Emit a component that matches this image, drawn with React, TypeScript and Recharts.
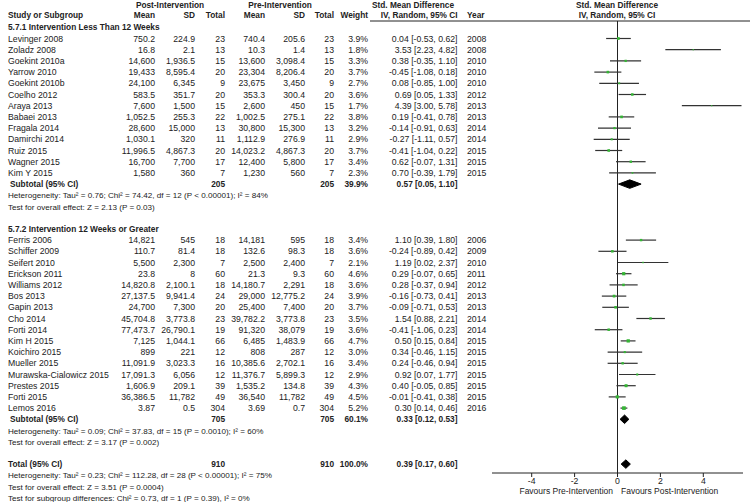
import { Area, ComposedChart, ErrorBar, ReferenceLine, Scatter, XAxis, YAxis } from "recharts";

document.body.style.margin = "0";

const font = '"Liberation Sans", Arial, Helvetica, sans-serif';
const ink = "#222";
const green = "#35b535";

// study table (first 13 = 5.7.1, rest = 5.7.2)
const studies = [
  "Levinger 2008", "Zoladz 2008", "Goekint 2010a", "Yarrow 2010", "Goekint 2010b", "Coelho 2012", "Araya 2013",
  "Babaei 2013", "Fragala 2014", "Damirchi 2014", "Ruiz 2015", "Wagner 2015", "Kim Y 2015",
  "Ferris 2006", "Schiffer 2009", "Seifert 2010", "Erickson 2011", "Williams 2012", "Bos 2013", "Gapin 2013",
  "Cho 2014", "Forti 2014", "Kim H 2015", "Koichiro 2015", "Mueller 2015", "Murawska-Cialowicz 2015",
  "Prestes 2015", "Forti 2015", "Lemos 2016",
];
const postMean = [
  "750.2", "16.8", "14,600", "19,433", "24,100", "583.5", "7,600", "1,052.5", "28,600", "1,030.1", "11,996.5", "16,700", "1,580",
  "14,821", "110.7", "5,500", "23.8", "14,820.8", "27,137.5", "24,700", "45,704.8", "77,473.7", "7,125", "899", "11,091.9",
  "17,091.3", "1,606.9", "36,386.5", "3.87",
];
const postSD = [
  "224.9", "2.1", "1,936.5", "8,595.4", "6,345", "351.7", "1,500", "255.3", "15,000", "320", "4,867.3", "7,700", "360",
  "545", "81.4", "2,300", "8", "2,100.1", "9,941.4", "7,300", "3,773.8", "26,790.1", "1,044.1", "221", "3,023.3",
  "6,056", "209.1", "11,782", "0.5",
];
const postN = [23, 13, 15, 20, 9, 20, 15, 22, 13, 11, 20, 17, 7, 18, 18, 7, 60, 18, 24, 20, 23, 19, 66, 12, 16, 12, 39, 49, 304];
const preMean = [
  "740.4", "10.3", "13,600", "23,304", "23,675", "353.3", "2,600", "1,002.5", "30,800", "1,112.9", "14,023.2", "12,400", "1,230",
  "14,181", "132.6", "2,500", "21.3", "14,180.7", "29,000", "25,400", "39,782.2", "91,320", "6,485", "808", "10,385.6",
  "11,376.7", "1,535.2", "36,540", "3.69",
];
const preSD = [
  "205.6", "1.4", "3,098.4", "8,206.4", "3,450", "300.4", "450", "275.1", "15,300", "276.9", "4,867.3", "5,800", "560",
  "595", "98.3", "2,400", "9.3", "2,291", "12,775.2", "7,400", "3,773.8", "38,079", "1,483.9", "287", "2,702.1",
  "5,899.3", "134.8", "11,782", "0.7",
];
const preN = postN;
const weight = [3.9, 1.8, 3.3, 3.7, 2.7, 3.6, 1.7, 3.8, 3.2, 2.9, 3.7, 3.4, 2.3, 3.4, 3.6, 2.1, 4.6, 3.6, 3.9, 3.7, 3.5, 3.6, 4.7, 3.0, 3.4, 2.9, 4.3, 4.5, 5.2];
const smd = [0.04, 3.53, 0.38, -0.45, 0.08, 0.69, 4.39, 0.19, -0.14, -0.27, -0.41, 0.62, 0.7, 1.1, -0.24, 1.19, 0.29, 0.28, -0.16, -0.09, 1.54, -0.41, 0.5, 0.34, 0.24, 0.92, 0.4, -0.01, 0.3];
const ciLow = [-0.53, 2.23, -0.35, -1.08, -0.85, 0.05, 3.0, -0.41, -0.91, -1.11, -1.04, -0.07, -0.39, 0.39, -0.89, 0.02, -0.07, -0.37, -0.73, -0.71, 0.88, -1.06, 0.15, -0.46, -0.46, 0.07, -0.05, -0.41, 0.14];
const ciHigh = [0.62, 4.82, 1.1, 0.18, 1.0, 1.33, 5.78, 0.78, 0.63, 0.57, 0.22, 1.31, 1.79, 1.8, 0.42, 2.37, 0.65, 0.94, 0.41, 0.53, 2.21, 0.23, 0.84, 1.15, 0.94, 1.77, 0.85, 0.38, 0.46];
const years = [2008, 2008, 2010, 2010, 2010, 2012, 2013, 2013, 2014, 2014, 2015, 2015, 2015, 2006, 2009, 2010, 2011, 2012, 2013, 2013, 2014, 2014, 2015, 2015, 2015, 2015, 2015, 2015, 2016];

const groupTitles = ["5.7.1 Intervention Less Than 12 Weeks", "5.7.2 Intervention 12 Weeks or Greater"];
const summaryLabels = ["Subtotal (95% CI)", "Subtotal (95% CI)", "Total (95% CI)"];
const summaryN = [205, 705, 910];
const summaryWeight = ["39.9%", "60.1%", "100.0%"];
const summarySmd = [0.57, 0.33, 0.39];
const summaryLow = [0.05, 0.12, 0.17];
const summaryHigh = [1.1, 0.53, 0.6];
const heterogeneity = [
  "Heterogeneity: Tau² = 0.76; Chi² = 74.42, df = 12 (P < 0.00001); I² = 84%",
  "Heterogeneity: Tau² = 0.09; Chi² = 37.83, df = 15 (P = 0.0010); I² = 60%",
  "Heterogeneity: Tau² = 0.23; Chi² = 112.28, df = 28 (P < 0.00001); I² = 75%",
];
const overallTests = [
  "Test for overall effect: Z = 2.13 (P = 0.03)",
  "Test for overall effect: Z = 3.17 (P = 0.002)",
  "Test for overall effect: Z = 3.51 (P = 0.0004)",
];
const subgroupTest = "Test for subgroup differences: Chi² = 0.73, df = 1 (P = 0.39), I² = 0%";
const xTicks = [-4, -2, 0, 2, 4];

// layout
const ROW0 = 38.5;
const ROW_H = 11.2;
const rowY = (r: number) => ROW0 + ROW_H * r;
const studyRow = (i: number) => (i < 13 ? i : i + 5);
const GROUP_ROWS = [-1, 17];
const SUMMARY_ROWS = [13, 34, 38];
const PLOT_TOP = 21;
const PLOT_BOTTOM = 473;
const Y_DOMAIN = [(PLOT_TOP - ROW0) / ROW_H, (PLOT_BOTTOM - ROW0) / ROW_H];
const COL = { name: 8, postMean: 155, postSD: 195, postN: 225, preMean: 265, preSD: 305, preN: 334, weight: 368, ci: 457.5, year: 467 };
const STAT_SIZE = 8.1;

const fmt = (v: number) => v.toFixed(2);
const ciText = (m: number, lo: number, hi: number) => `${fmt(m)} [${fmt(lo)}, ${fmt(hi)}]`;

const studyPoints = studies.map((name, i) => ({
  name,
  x: smd[i],
  y: studyRow(i),
  err: [smd[i] - ciLow[i], ciHigh[i] - smd[i]],
  w: weight[i],
}));

const HALF = 0.38;
const diamondRows: any[] = [];
summarySmd.forEach((m, k) => {
  const r = SUMMARY_ROWS[k];
  const key = `d${k}`;
  diamondRows.push({ x: summaryLow[k], [key]: [r, r] });
  diamondRows.push({ x: m, [key]: [r - HALF, r + HALF] });
  diamondRows.push({ x: summaryHigh[k], [key]: [r, r] });
});

function GreenSquare(props: any) {
  const { cx, cy, payload } = props;
  const s = Math.max(1.2, payload.w * 0.7);
  return <rect x={cx - s / 2} y={cy - s / 2} width={s} height={s} fill={green} />;
}

function T({ x, r, y, anchor = "start", bold = false, size, children }: any) {
  return (
    <text
      x={x}
      y={y ?? rowY(r) + 3.1}
      textAnchor={anchor}
      fontWeight={bold ? "bold" : "normal"}
      fontSize={size ?? (bold ? 8.3 : 8.7)}
      fill={ink}
    >
      {children}
    </text>
  );
}

function TableText() {
  return (
    <svg width={750} height={502} style={{ position: "absolute", left: 0, top: 0, pointerEvents: "none", fontFamily: font }}>
      <T x={170} y={7.6} anchor="middle" bold>Post-Intervention</T>
      <T x={280} y={7.6} anchor="middle" bold>Pre-Intervention</T>
      <T x={413} y={7.6} anchor="middle" bold>Std. Mean Difference</T>
      <T x={617} y={7.6} anchor="middle" bold>Std. Mean Difference</T>
      <T x={COL.name} y={18.2} bold>Study or Subgroup</T>
      <T x={COL.postMean} y={18.2} anchor="end" bold>Mean</T>
      <T x={COL.postSD} y={18.2} anchor="end" bold>SD</T>
      <T x={COL.postN} y={18.2} anchor="end" bold>Total</T>
      <T x={COL.preMean} y={18.2} anchor="end" bold>Mean</T>
      <T x={COL.preSD} y={18.2} anchor="end" bold>SD</T>
      <T x={COL.preN} y={18.2} anchor="end" bold>Total</T>
      <T x={COL.weight} y={18.2} anchor="end" bold>Weight</T>
      <T x={COL.ci} y={18.2} anchor="end" bold>IV, Random, 95% CI</T>
      <T x={COL.year} y={18.2} bold>Year</T>
      <T x={617} y={18.2} anchor="middle" bold>IV, Random, 95% CI</T>
      <line x1={370} x2={750} y1={PLOT_TOP} y2={PLOT_TOP} stroke={ink} strokeWidth={1} />

      {groupTitles.map((g, k) => (
        <T key={g} x={COL.name} r={GROUP_ROWS[k]} bold>{g}</T>
      ))}

      {studies.map((name, i) => {
        const r = studyRow(i);
        return (
          <g key={name}>
            <T x={COL.name} r={r}>{name}</T>
            <T x={COL.postMean} r={r} anchor="end">{postMean[i]}</T>
            <T x={COL.postSD} r={r} anchor="end">{postSD[i]}</T>
            <T x={COL.postN} r={r} anchor="end">{postN[i]}</T>
            <T x={COL.preMean} r={r} anchor="end">{preMean[i]}</T>
            <T x={COL.preSD} r={r} anchor="end">{preSD[i]}</T>
            <T x={COL.preN} r={r} anchor="end">{preN[i]}</T>
            <T x={COL.weight} r={r} anchor="end">{weight[i].toFixed(1)}%</T>
            <T x={COL.ci} r={r} anchor="end">{ciText(smd[i], ciLow[i], ciHigh[i])}</T>
            <T x={COL.year} r={r}>{years[i]}</T>
          </g>
        );
      })}

      {summaryLabels.map((label, k) => {
        const r = SUMMARY_ROWS[k];
        return (
          <g key={k}>
            <T x={k < 2 ? COL.name + 2 : COL.name} r={r} bold>{label}</T>
            <T x={COL.postN} r={r} anchor="end" bold>{summaryN[k]}</T>
            <T x={COL.preN} r={r} anchor="end" bold>{summaryN[k]}</T>
            <T x={COL.weight} r={r} anchor="end" bold>{summaryWeight[k]}</T>
            <T x={COL.ci} r={r} anchor="end" bold>{ciText(summarySmd[k], summaryLow[k], summaryHigh[k])}</T>
            <T x={COL.name} r={r + 1} size={STAT_SIZE}>{heterogeneity[k]}</T>
            <T x={COL.name} r={r + 2} size={STAT_SIZE}>{overallTests[k]}</T>
          </g>
        );
      })}
      <T x={COL.name} r={SUMMARY_ROWS[2] + 3} size={STAT_SIZE}>{subgroupTest}</T>

      <T x={613} y={494} anchor="end" size={8.5}>Favours Pre-Intervention</T>
      <T x={621} y={494} size={8.5}>Favours Post-Intervention</T>
    </svg>
  );
}

export default function App() {
  return (
    <div style={{ position: "relative", width: 750, height: 502, background: "#fff", fontFamily: font }}>
      <ComposedChart
        width={750}
        height={502}
        data={diamondRows}
        margin={{ top: PLOT_TOP, right: 7, bottom: 0, left: 492 }}
      >
        <XAxis
          type="number"
          dataKey="x"
          domain={[-5.85, 5.85]}
          allowDataOverflow
          ticks={xTicks}
          height={502 - PLOT_BOTTOM}
          tickSize={4}
          tickMargin={1}
          stroke={ink}
          tick={{ fill: ink, fontSize: 8.7, fontFamily: font }}
        />
        <YAxis type="number" dataKey="y" hide reversed domain={Y_DOMAIN} allowDataOverflow />
        <ReferenceLine x={0} stroke={ink} strokeWidth={1} />
        {summarySmd.map((_, k) => (
          <Area
            key={k}
            dataKey={`d${k}`}
            type="linear"
            fill="#000"
            fillOpacity={1}
            stroke="#000"
            strokeWidth={1}
            dot={false}
            activeDot={false}
            isAnimationActive={false}
          />
        ))}
        <Scatter data={studyPoints} shape={GreenSquare} isAnimationActive={false}>
          <ErrorBar dataKey="err" direction="x" width={0} stroke="#333" strokeWidth={1.2} isAnimationActive={false} />
        </Scatter>
      </ComposedChart>
      <TableText />
    </div>
  );
}
